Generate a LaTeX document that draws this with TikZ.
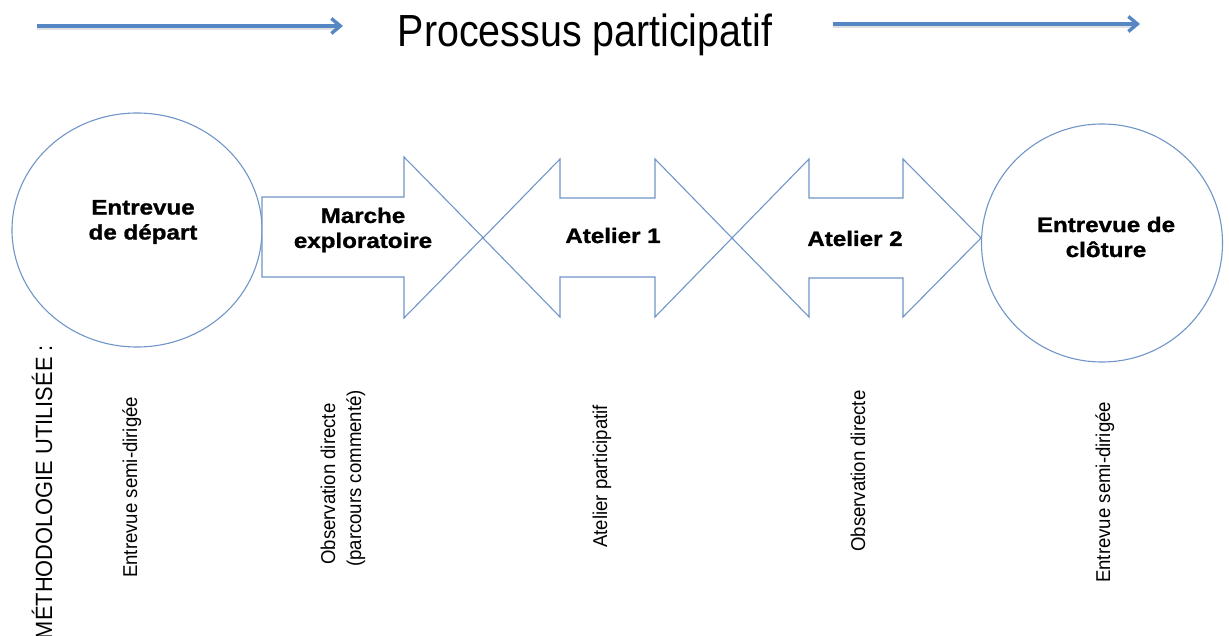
\documentclass[tikz,border=0pt]{standalone}
\usepackage{fontspec}
\setmainfont{Liberation Sans}
\newfontfamily\titlefont[FakeStretch=0.875]{Liberation Sans}
\newfontfamily\notefont[FakeStretch=0.93]{Liberation Sans}
\newfontfamily\stagefont[FakeStretch=1.15, BoldFeatures={FakeBold=1.2}]{Liberation Sans}
\usetikzlibrary{arrows.meta,shapes.geometric}

\definecolor{outlineblue}{RGB}{112,150,200}
\definecolor{flowblue}{RGB}{84,135,196}

\tikzset{
  outline/.style={draw=outlineblue, line width=1.1pt, line join=miter, fill=white},
  bubble/.style={outline, ellipse, inner sep=0pt},
  stagelabel/.style={font=\stagefont\bfseries\fontsize{21}{25}\selectfont, align=center, inner sep=0pt},
  notelabel/.style={font=\notefont\fontsize{20}{24}\selectfont, rotate=90, anchor=base west, inner sep=0pt},
  flow/.style={draw=flowblue, line width=3.4pt, -{Straight Barb[length=9pt,width=15pt,line width=3.4pt]}},
  flowshadow/.style={draw=black!40, opacity=0.3, line width=3.5pt, line cap=round}
}

\begin{document}
\begin{tikzpicture}[x=1pt,y=-1pt]
  \useasboundingbox (0,0) rectangle (1229,636);
  \fill[white] (0,0) rectangle (1229,636);

  % title with the two process arrows
  \node[font=\titlefont\fontsize{45}{54}\selectfont, anchor=base, inner sep=0pt] (title) at (585,47) {Processus participatif};
  \coordinate (fl1s) at (37,26);
  \coordinate (fl1e) at (343,26);
  \coordinate (fl2s) at (833,24);
  \coordinate (fl2e) at (1140,24);
  \draw[flowshadow] ([shift={(1,2.5)}]fl1s) -- ([shift={(-6,2.5)}]fl1e);
  \draw[flowshadow] ([shift={(1,2.5)}]fl2s) -- ([shift={(-6,2.5)}]fl2e);
  \draw[flow] (fl1s) -- (fl1e);
  \draw[flow] (fl2s) -- (fl2e);

  % opening and closing interviews
  \node[bubble, minimum width=250pt, minimum height=234pt] (depart) at (137,230) {};
  \node[bubble, minimum width=241pt, minimum height=238pt] (cloture) at (1102,243) {};

  % exploratory walk
  \draw[outline] (262,197) -- (404,197) -- (404,157) -- (483,237.5) -- (404,318)
                 -- (404,277) -- (262,277) -- cycle;
  % workshop 1
  \draw[outline] (483,238) -- (560,159) -- (560,198) -- (655,198) -- (655,159)
                 -- (732,238) -- (655,317) -- (655,277) -- (560,277) -- (560,317) -- cycle;
  % workshop 2
  \draw[outline] (732,238) -- (809,159) -- (809,198) -- (903,198) -- (903,159)
                 -- (981,238) -- (903,317) -- (903,278) -- (809,278) -- (809,317) -- cycle;

  % stage names
  \node[stagelabel] (tdepart) at (143,222) {Entrevue\\de départ};
  \node[stagelabel] (tmarche) at (363,230) {Marche\\exploratoire};
  \node[stagelabel, anchor=base] (tat1) at (613,243) {Atelier 1};
  \node[stagelabel, anchor=base] (tat2) at (855,246) {Atelier 2};
  \node[stagelabel] (tcloture) at (1106,237) {Entrevue de\\clôture};

  % methods used at each stage
  \node[notelabel, font=\notefont\fontsize{23.5}{28}\selectfont, anchor=base east] (methode) at (52,345) {MÉTHODOLOGIE UTILISÉE :};
  \node[notelabel] (m1) at (137,578) {Entrevue semi-dirigée};
  \node[notelabel] (m2a) at (335,565) {Observation directe};
  \node[notelabel] (m2b) at (361,567) {(parcours commenté)};
  \node[notelabel] (m3) at (607,548) {Atelier participatif};
  \node[notelabel] (m4) at (865,552) {Observation directe};
  \node[notelabel] (m5) at (1110,583) {Entrevue semi-dirigée};
\end{tikzpicture}
\end{document}
